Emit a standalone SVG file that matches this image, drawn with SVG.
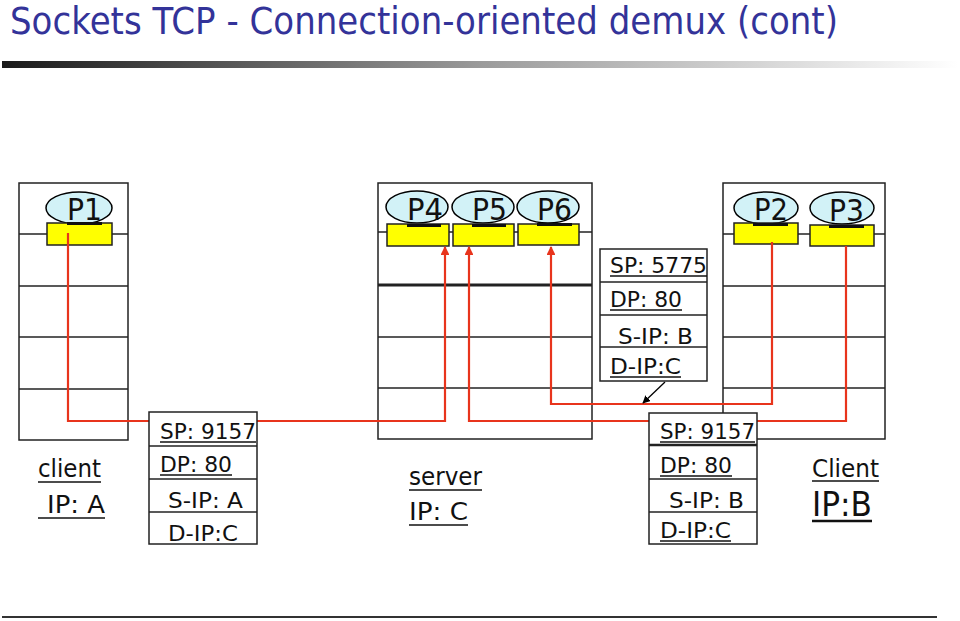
<svg xmlns="http://www.w3.org/2000/svg" width="960" height="621" viewBox="0 0 960 621">
<defs>
<linearGradient id="bar" x1="0" y1="0" x2="1" y2="0">
<stop offset="0" stop-color="#1a1a1a"/>
<stop offset="0.5" stop-color="#9a9a9a"/>
<stop offset="1" stop-color="#ffffff"/>
</linearGradient>
<marker id="redArrow" viewBox="0 0 10 10" refX="9" refY="5" markerWidth="4" markerHeight="4" orient="auto" markerUnits="strokeWidth">
<path d="M0,0 L10,5 L0,10 z" fill="#e8341c"/>
</marker>
<marker id="blkArrow" viewBox="0 0 10 10" refX="9" refY="5" markerWidth="6" markerHeight="6" orient="auto" markerUnits="strokeWidth">
<path d="M0,0 L10,5 L0,10 z" fill="#000"/>
</marker>
</defs>
<style>
.title{font-family:"DejaVu Sans","Liberation Sans",sans-serif;font-size:37px;fill:#333399}
.host{fill:#fff;stroke:#222;stroke-width:1.5}
.row{stroke:#222;stroke-width:1.5}
.proc{fill:#d2f2f7;stroke:#000;stroke-width:1.5}
.sock{fill:#ffff00;stroke:#222;stroke-width:1.5}
.plab{font-family:"DejaVu Sans","Liberation Sans",sans-serif;font-size:30px;fill:#111}
.ubar{fill:#111}
.red{fill:none;stroke:#e8341c;stroke-width:2.2}
.pkt{fill:#fff;stroke:#222;stroke-width:1.5}
.ptxt{font-family:"DejaVu Sans","Liberation Sans",sans-serif;font-size:21px;fill:#111}
.ul{stroke:#111;stroke-width:1.5}
.lab{font-family:"DejaVu Sans","Liberation Sans",sans-serif;font-size:24px;fill:#111}
</style>
<rect width="960" height="621" fill="#fff"/>
<text class="title" x="10" y="34" textLength="828" lengthAdjust="spacingAndGlyphs">Sockets TCP - Connection-oriented demux (cont)</text>
<rect x="2" y="61" width="956" height="7" fill="url(#bar)"/>
<rect x="2" y="616" width="935" height="2" fill="#333"/>

<g id="hostA">
<rect class="host" x="19" y="183" width="109" height="257"/>
<line class="row" x1="19" y1="234" x2="128" y2="234"/>
<line class="row" x1="19" y1="286" x2="128" y2="286"/>
<line class="row" x1="19" y1="337" x2="128" y2="337"/>
<line class="row" x1="19" y1="389" x2="128" y2="389"/>
</g>
<g id="server">
<rect class="host" x="378" y="183" width="214" height="256"/>
<line class="row" x1="378" y1="232" x2="592" y2="232"/>
<line class="row" x1="378" y1="285" x2="592" y2="285" style="stroke-width:2.8"/>
<line class="row" x1="378" y1="337" x2="592" y2="337"/>
<line class="row" x1="378" y1="388" x2="592" y2="388"/>
</g>
<g id="hostB">
<rect class="host" x="723" y="183" width="162" height="256"/>
<line class="row" x1="723" y1="234" x2="885" y2="234"/>
<line class="row" x1="723" y1="286" x2="885" y2="286"/>
<line class="row" x1="723" y1="337" x2="885" y2="337"/>
<line class="row" x1="723" y1="388" x2="885" y2="388"/>
</g>

<g id="P1">
<ellipse class="proc" cx="79" cy="208" rx="33" ry="16"/>
<rect class="sock" x="47" y="223" width="65" height="22"/>
<text class="plab" x="67" y="220" textLength="35" lengthAdjust="spacingAndGlyphs">P1</text>
<rect class="ubar" x="67" y="222" width="35" height="3"/>
</g>
<g id="P4">
<ellipse class="proc" cx="417" cy="207" rx="31" ry="16"/>
<rect class="sock" x="387" y="224" width="62" height="22"/>
<text class="plab" x="407" y="220" textLength="36" lengthAdjust="spacingAndGlyphs">P4</text>
<rect class="ubar" x="407" y="224" width="34" height="3"/>
</g>
<g id="P5">
<ellipse class="proc" cx="483" cy="207" rx="31" ry="16"/>
<rect class="sock" x="453" y="224" width="61" height="22"/>
<text class="plab" x="472" y="220" textLength="35" lengthAdjust="spacingAndGlyphs">P5</text>
<rect class="ubar" x="472" y="224" width="34" height="3"/>
</g>
<g id="P6">
<ellipse class="proc" cx="548" cy="207" rx="31" ry="16"/>
<rect class="sock" x="518" y="224" width="61" height="21"/>
<text class="plab" x="537" y="220" textLength="35" lengthAdjust="spacingAndGlyphs">P6</text>
<rect class="ubar" x="537" y="223" width="35" height="3"/>
</g>
<g id="P2">
<ellipse class="proc" cx="766" cy="208" rx="32" ry="16"/>
<rect class="sock" x="734" y="223" width="64" height="21"/>
<text class="plab" x="754" y="220" textLength="34" lengthAdjust="spacingAndGlyphs">P2</text>
<rect class="ubar" x="753" y="223" width="35" height="3"/>
</g>
<g id="P3">
<ellipse class="proc" cx="842" cy="208" rx="32" ry="16"/>
<rect class="sock" x="810" y="225" width="64" height="21"/>
<text class="plab" x="829" y="221" textLength="35" lengthAdjust="spacingAndGlyphs">P3</text>
<rect class="ubar" x="829" y="225" width="35" height="3"/>
</g>

<g id="connectors">
<path class="red" d="M68,233 V421 H445 V247" marker-end="url(#redArrow)"/>
<path class="red" d="M846,246 V421 H469 V247" marker-end="url(#redArrow)"/>
<path class="red" d="M772,242 V404 H551 V247" marker-end="url(#redArrow)"/>
<line x1="665" y1="382" x2="643" y2="403" stroke="#000" stroke-width="1.3" marker-end="url(#blkArrow)"/>
</g>

<g id="pktA">
<rect class="pkt" x="149" y="412" width="108" height="132"/>
<line class="row" x1="149" y1="446" x2="257" y2="446"/>
<line class="row" x1="149" y1="479" x2="257" y2="479"/>
<line class="row" x1="149" y1="512" x2="257" y2="512"/>
<text class="ptxt" x="160" y="439" textLength="96" lengthAdjust="spacingAndGlyphs">SP: 9157</text>
<line class="ul" x1="160" y1="442" x2="256" y2="442"/>
<text class="ptxt" x="160" y="472" textLength="72" lengthAdjust="spacingAndGlyphs">DP: 80</text>
<line class="ul" x1="160" y1="475" x2="232" y2="475"/>
<text class="ptxt" x="168" y="508" textLength="75" lengthAdjust="spacingAndGlyphs">S-IP: A</text>
<text class="ptxt" x="168" y="541" textLength="70" lengthAdjust="spacingAndGlyphs">D-IP:C</text>
</g>

<g id="pktB">
<rect class="pkt" x="649" y="413" width="108" height="131"/>
<line class="row" x1="649" y1="445" x2="757" y2="445" style="stroke-width:2.5"/>
<line class="row" x1="649" y1="479" x2="757" y2="479"/>
<line class="row" x1="649" y1="512" x2="757" y2="512"/>
<text class="ptxt" x="660" y="439" textLength="95" lengthAdjust="spacingAndGlyphs">SP: 9157</text>
<line class="ul" x1="660" y1="442" x2="755" y2="442"/>
<text class="ptxt" x="660" y="473" textLength="72" lengthAdjust="spacingAndGlyphs">DP: 80</text>
<line class="ul" x1="660" y1="476" x2="732" y2="476"/>
<text class="ptxt" x="669" y="508" textLength="75" lengthAdjust="spacingAndGlyphs">S-IP: B</text>
<text class="ptxt" x="660" y="538" textLength="71" lengthAdjust="spacingAndGlyphs">D-IP:C</text>
<line class="ul" x1="660" y1="541" x2="731" y2="541"/>
</g>

<g id="pktC">
<rect class="pkt" x="600" y="249" width="107" height="132"/>
<line class="row" x1="600" y1="282" x2="707" y2="282"/>
<line class="row" x1="600" y1="315" x2="707" y2="315"/>
<line class="row" x1="600" y1="347" x2="707" y2="347"/>
<text class="ptxt" x="610" y="273" textLength="97" lengthAdjust="spacingAndGlyphs">SP: 5775</text>
<line class="ul" x1="610" y1="276" x2="707" y2="276"/>
<text class="ptxt" x="610" y="307" textLength="72" lengthAdjust="spacingAndGlyphs">DP: 80</text>
<line class="ul" x1="610" y1="310" x2="682" y2="310"/>
<text class="ptxt" x="618" y="344" textLength="75" lengthAdjust="spacingAndGlyphs">S-IP: B</text>
<text class="ptxt" x="610" y="374" textLength="71" lengthAdjust="spacingAndGlyphs">D-IP:C</text>
<line class="ul" x1="610" y1="377" x2="681" y2="377"/>
</g>

<g id="labelA">
<text class="lab" x="38" y="477" textLength="63" lengthAdjust="spacingAndGlyphs">client</text>
<line class="ul" x1="38" y1="482" x2="101" y2="482"/>
<text class="lab" x="47" y="513" textLength="58" lengthAdjust="spacingAndGlyphs">IP: A</text>
<line class="ul" x1="38" y1="518" x2="105" y2="518"/>
</g>
<g id="labelServer">
<text class="lab" x="409" y="485" textLength="73" lengthAdjust="spacingAndGlyphs">server</text>
<line class="ul" x1="409" y1="490" x2="482" y2="490"/>
<text class="lab" x="409" y="520" textLength="59" lengthAdjust="spacingAndGlyphs">IP: C</text>
<line class="ul" x1="409" y1="525" x2="468" y2="525"/>
</g>
<g id="labelB">
<text class="lab" x="812" y="477" textLength="67" lengthAdjust="spacingAndGlyphs">Client</text>
<line class="ul" x1="812" y1="481" x2="879" y2="481"/>
<text class="lab" x="812" y="516" style="font-size:33px" textLength="60" lengthAdjust="spacingAndGlyphs">IP:B</text>
<line class="ul" x1="812" y1="521" x2="872" y2="521" style="stroke-width:2.5"/>
</g>
</svg>
